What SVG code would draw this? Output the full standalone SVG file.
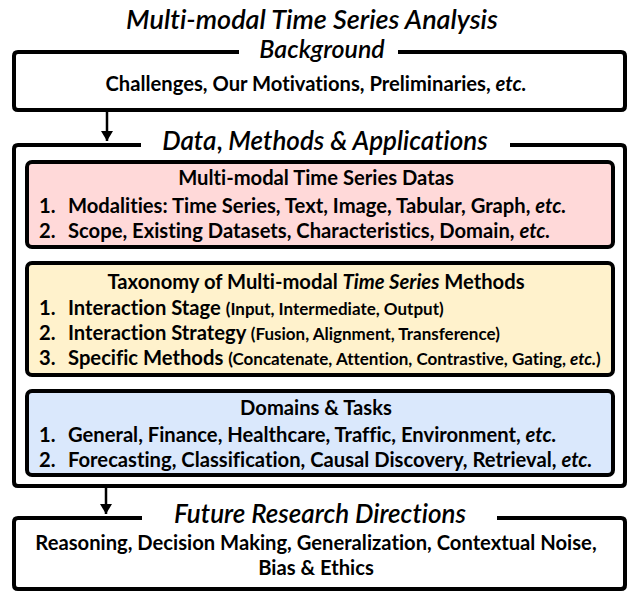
<svg xmlns="http://www.w3.org/2000/svg" width="628" height="592" viewBox="0 0 628 592">
<defs>
<marker id="ah" viewBox="0 0 10 12" refX="10" refY="6" markerWidth="10" markerHeight="12" markerUnits="userSpaceOnUse" orient="auto">
<path d="M0,0 L10,6 L0,12 Z" fill="#000"/>
</marker>
<style>
text{font-variant-ligatures:none}
.frame{fill:none;stroke:#000;stroke-width:4;stroke-linejoin:round}
.box{stroke:#000;stroke-width:4}
.hd{font-family:Lato,"Open Sans",sans-serif;font-style:italic;font-weight:600;fill:#000}
.tx{font-family:Lato,"Open Sans",sans-serif;font-weight:700;font-size:20.2px;fill:#000}
.sm{font-size:17px}
.c{text-anchor:middle}
.it{font-style:italic}
</style>
</defs>
<rect width="628" height="592" fill="#fff"/>
<text class="hd c" x="312" y="29" font-size="27">Multi-modal Time Series Analysis</text>

<g id="background">
<path class="frame" d="M239,52 H18 Q14,52 14,56 V106 Q14,110 18,110 H621 Q625,110 625,106 V56 Q625,52 621,52 H398"/>
<text class="hd c" x="322" y="58" font-size="25">Background</text>
<text class="tx c" x="316" y="91">Challenges, Our Motivations, Preliminaries, <tspan class="it">etc.</tspan></text>
</g>

<g id="dma">
<path class="frame" d="M141,145 H18 Q14,145 14,149 V482 Q14,486 18,486 H621 Q625,486 625,482 V149 Q625,145 621,145 H510"/>
<text class="hd c" x="325" y="150" font-size="26">Data<tspan font-style="normal">,</tspan> Methods &amp; Applications</text>
</g>

<g id="data">
<rect class="box" x="27" y="162" width="586" height="85" rx="5" fill="#FFD9D9"/>
<text class="tx c" x="316" y="185">Multi-modal Time Series Datas</text>
<text class="tx" x="39" y="213">1.</text>
<text class="tx" x="68" y="213">Modalities: Time Series, Text, Image, Tabular, Graph, <tspan class="it">etc.</tspan></text>
<text class="tx" x="39" y="238">2.</text>
<text class="tx" x="68" y="238">Scope, Existing Datasets, Characteristics, Domain, <tspan class="it">etc.</tspan></text>
</g>

<g id="methods">
<rect class="box" x="27" y="263" width="586" height="112" rx="5" fill="#FFF2CC"/>
<text class="tx c" x="316" y="289">Taxonomy of Multi-modal <tspan class="it">Time Series</tspan> Methods</text>
<text class="tx" x="39" y="315">1.</text>
<text class="tx" x="68" y="315">Interaction Stage <tspan class="sm">(Input, Intermediate, Output)</tspan></text>
<text class="tx" x="39" y="340">2.</text>
<text class="tx" x="68" y="340">Interaction Strategy <tspan class="sm">(Fusion, Alignment, Transference)</tspan></text>
<text class="tx" x="39" y="365">3.</text>
<text class="tx" x="68" y="365">Specific Methods <tspan class="sm">(Concatenate, Attention, Contrastive, Gating, <tspan class="it">etc.</tspan>)</tspan></text>
</g>

<g id="domains">
<rect class="box" x="27" y="391" width="586" height="84" rx="5" fill="#DAE8FC"/>
<text class="tx c" x="316" y="415">Domains &amp; Tasks</text>
<text class="tx" x="39" y="442">1.</text>
<text class="tx" x="68" y="442">General, Finance, Healthcare, Traffic, Environment, <tspan class="it">etc.</tspan></text>
<text class="tx" x="39" y="467">2.</text>
<text class="tx" x="68" y="467">Forecasting, Classification, Causal Discovery, Retrieval, <tspan class="it">etc.</tspan></text>
</g>

<g id="future">
<path class="frame" d="M142,518 H18 Q14,518 14,522 V585 Q14,589 18,589 H621 Q625,589 625,585 V522 Q625,518 621,518 H497"/>
<text class="hd c" x="320" y="523" font-size="26">Future Research Directions</text>
<text class="tx c" x="316" y="550">Reasoning, Decision Making, Generalization, Contextual Noise,</text>
<text class="tx c" x="316" y="575">Bias &amp; Ethics</text>
</g>

<g id="connectors">
<line x1="107" y1="112" x2="107" y2="141" stroke="#000" stroke-width="2.5" marker-end="url(#ah)"/>
<line x1="106" y1="488" x2="106" y2="514" stroke="#000" stroke-width="2.5" marker-end="url(#ah)"/>
</g>
</svg>
